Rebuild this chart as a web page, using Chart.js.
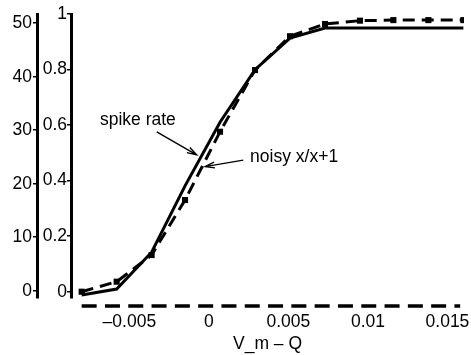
<!DOCTYPE html>
<html>
<head>
<meta charset="utf-8">
<script src="https://cdn.jsdelivr.net/npm/chart.js@4/dist/chart.umd.min.js"></script>
<style>
  html, body { margin: 0; padding: 0; background: #fff; }
  #wrap { width: 471px; height: 355px; position: relative; }
</style>
</head>
<body>
<div id="wrap"><canvas id="chart"></canvas></div>
<script>
// values
const xValues = [-0.008, -0.0058, -0.0036, -0.0015, 0.0007, 0.0029, 0.0051, 0.0073, 0.0095, 0.0116, 0.0138, 0.016];
const spikeRate = [-0.8, 0.3, 7.2, 19.6, 31.5, 41.3, 47.2, 49.1, 49.1, 49.1, 49.1, 49.1];
const noisyRatio = [0.0, 0.036, 0.132, 0.33, 0.576, 0.798, 0.92, 0.964, 0.976, 0.978, 0.978, 0.978];

const xTicks = [-0.005, 0, 0.005, 0.01, 0.015];
const rateTicks = [0, 10, 20, 30, 40, 50];
const ratioTicks = [0, 0.2, 0.4, 0.6, 0.8, 1];

const xTitle = 'V_m \u2013 Q';
const xAxisEnd = 0.0158;

// text labels with arrows, in data units (x, rate axis)
const notes = [
  { text: 'spike rate', x: -0.00685, y: 31.9, from: [-0.00328, 29.7], to: [-0.00077, 25.4] },
  { text: 'noisy x/x+1', x: 0.00259, y: 25.0, from: [0.00216, 24.4], to: [-0.00024, 23.2] }
];

const FONT = { family: "'Liberation Sans', Arial, sans-serif", size: 17.5 };

const fmt = (v, d) => String(+v.toFixed(d)).replace('-', '\u2013');

const extras = {
  id: 'extras',
  afterDatasetsDraw(chart) {
    const ctx = chart.ctx;
    const xs = chart.scales.x, ys = chart.scales.y;
    const area = chart.chartArea;
    ctx.save();
    // dashed x axis line
    ctx.strokeStyle = '#000';
    ctx.lineWidth = 3.5;
    ctx.setLineDash([15, 8.3]);
    ctx.beginPath();
    ctx.moveTo(xs.getPixelForValue(xValues[0]), area.bottom + 8);
    ctx.lineTo(xs.getPixelForValue(xAxisEnd), area.bottom + 8);
    ctx.stroke();
    ctx.setLineDash([]);

    // annotations
    ctx.fillStyle = '#000';
    ctx.font = FONT.size + 'px ' + FONT.family;
    ctx.textBaseline = 'middle';
    ctx.textAlign = 'left';
    ctx.lineWidth = 1.4;
    notes.forEach(n => {
      ctx.fillText(n.text, xs.getPixelForValue(n.x), ys.getPixelForValue(n.y));
      const x0 = xs.getPixelForValue(n.from[0]), y0 = ys.getPixelForValue(n.from[1]);
      const x1 = xs.getPixelForValue(n.to[0]), y1 = ys.getPixelForValue(n.to[1]);
      ctx.beginPath();
      ctx.moveTo(x0, y0);
      ctx.lineTo(x1, y1);
      const a = Math.atan2(y1 - y0, x1 - x0);
      const len = 10, spread = 0.3;
      ctx.moveTo(x1 - len * Math.cos(a - spread), y1 - len * Math.sin(a - spread));
      ctx.lineTo(x1, y1);
      ctx.lineTo(x1 - len * Math.cos(a + spread), y1 - len * Math.sin(a + spread));
      ctx.stroke();
    });
    ctx.restore();
  }
};

const ctx = document.getElementById('chart').getContext('2d');
new Chart(ctx, {
  type: 'line',
  data: {
    datasets: [
      {
        label: 'spike rate',
        data: xValues.map((x, i) => ({ x: x, y: spikeRate[i] })),
        yAxisID: 'y',
        borderColor: '#000',
        borderWidth: 3,
        pointRadius: 0,
        tension: 0,
        fill: false
      },
      {
        label: 'noisy x/x+1',
        data: xValues.map((x, i) => ({ x: x, y: noisyRatio[i] })),
        yAxisID: 'y1',
        borderColor: '#000',
        borderWidth: 3,
        borderDash: [12, 7],
        pointStyle: 'rect',
        pointRadius: 4.3,
        pointBorderWidth: 0,
        pointBackgroundColor: '#000',
        tension: 0,
        fill: false
      }
    ]
  },
  options: {
    responsive: true,
    maintainAspectRatio: false,
    animation: false,
    events: [],
    layout: { padding: { left: 0, top: 14, right: 7, bottom: 0 } },
    plugins: { legend: { display: false }, tooltip: { enabled: false } },
    scales: {
      x: {
        type: 'linear',
        min: -0.00867,
        max: 0.01604,
        grid: { display: false },
        border: { display: false },
        afterBuildTicks: s => { s.ticks = xTicks.map(v => ({ value: v })); },
        afterFit: s => { s.height = 57; s.paddingLeft = 0; s.paddingRight = 0; },
        ticks: {
          color: '#000',
          font: FONT,
          padding: 6,
          maxRotation: 0,
          autoSkip: false,
          callback: v => fmt(v, 4)
        },
        title: {
          display: true,
          text: xTitle,
          color: '#000',
          font: FONT,
          padding: { top: 0, bottom: 0 }
        }
      },
      y: {
        position: 'left',
        weight: 2,
        min: -1.364,
        max: 51.72,
        afterBuildTicks: s => { s.ticks = rateTicks.map(v => ({ value: v })); },
        afterFit: s => { s.width = 37; },
        grid: { drawOnChartArea: false, color: '#000', lineWidth: 1.5, tickLength: 4 },
        border: { display: true, color: '#000', width: 3 },
        ticks: { color: '#000', font: FONT, padding: 1, callback: v => fmt(v, 0) }
      },
      y1: {
        position: 'left',
        weight: 1,
        min: -0.0227,
        max: 1,
        afterBuildTicks: s => { s.ticks = ratioTicks.map(v => ({ value: v })); },
        afterFit: s => { s.width = 34; },
        grid: { drawOnChartArea: false, color: '#000', lineWidth: 1.5, tickLength: 4 },
        border: { display: true, color: '#000', width: 3, dash: [16, 8] },
        ticks: { color: '#000', font: FONT, padding: 0, callback: v => fmt(v, 2) }
      }
    }
  },
  plugins: [extras]
});
</script>
</body>
</html>
